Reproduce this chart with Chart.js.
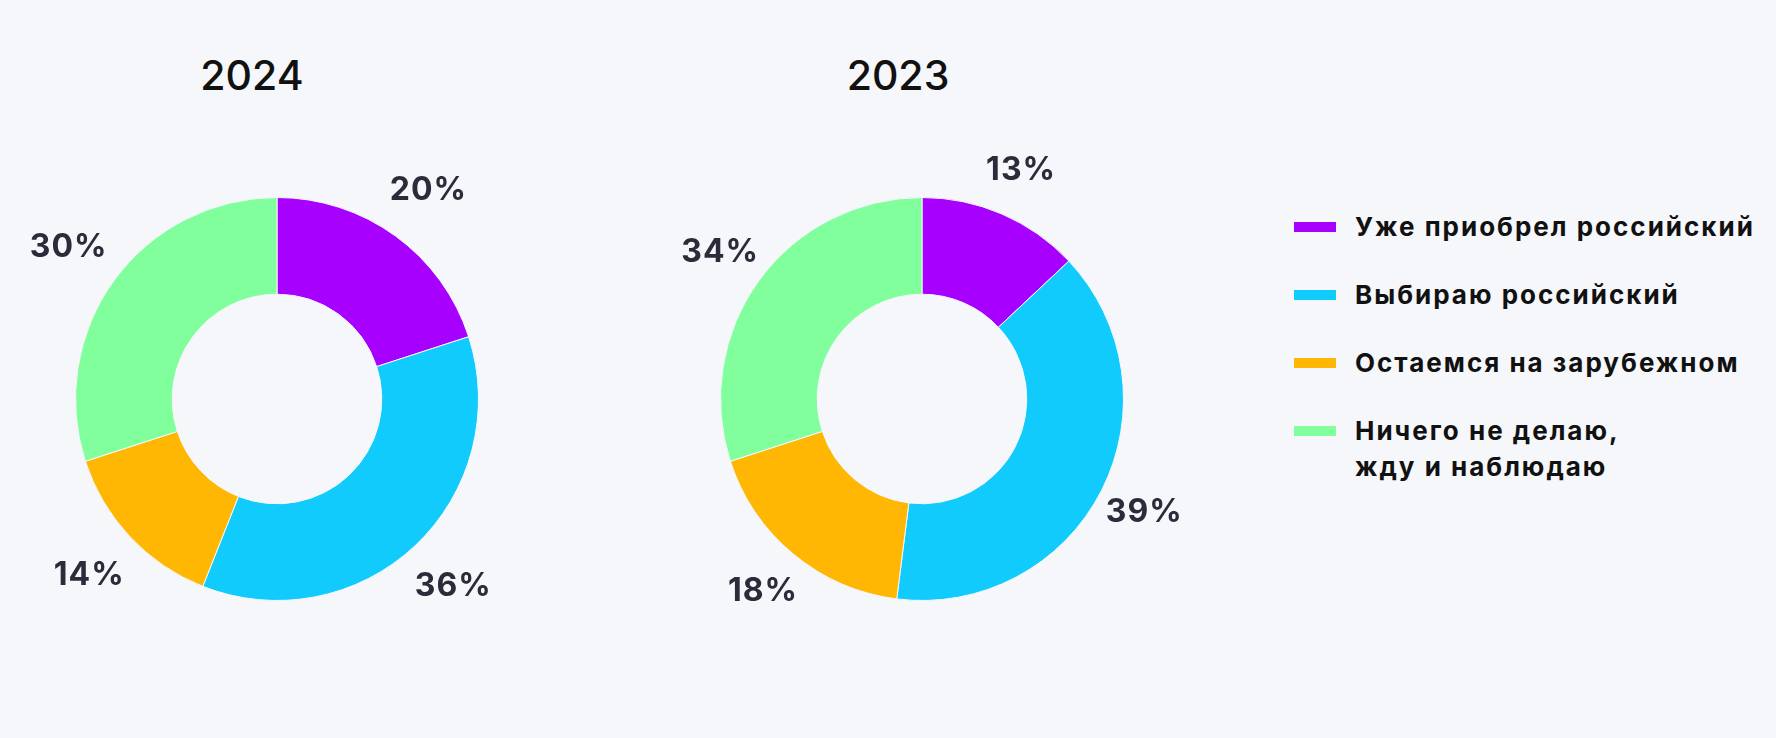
<!DOCTYPE html>
<html lang="ru">
<head>
<meta charset="utf-8">
<title>2024 / 2023</title>
<script src="https://cdn.jsdelivr.net/npm/chart.js@4/dist/chart.umd.min.js"></script>
<style>
  html, body { margin: 0; padding: 0; }
  body {
    width: 1776px; height: 738px; position: relative; overflow: hidden;
    background: #f5f7fb; font-family: Inter, "Noto Sans", sans-serif;
  }
  .year {
    position: absolute; top: 50px; width: 200px; text-align: center;
    font-size: 41px; font-weight: 500; color: #111; line-height: 50px;
  }
  .pie { position: absolute; top: 99px; width: 600px; height: 600px; }
  #legend { position: absolute; left: 1294px; top: 209px; }
  .item { display: flex; align-items: flex-start; margin-bottom: 32px; }
  .swatch { width: 42px; height: 10px; margin-top: 13px; margin-right: 19px; flex: none; }
  .txt { font-size: 26px; font-weight: 700; line-height: 36px; color: #111; white-space: pre-line; letter-spacing: 2px; }
</style>
</head>
<body>
<div class="year" style="left:152px">2024</div>
<div class="year" style="left:798px">2023</div>
<div class="pie" style="left:0px"><canvas id="chart2024"></canvas></div>
<div class="pie" style="left:622px"><canvas id="chart2023"></canvas></div>
<div id="legend"></div>

<script>
const categories = [
    'Уже приобрел российский',
    'Выбираю российский',
    'Остаемся на зарубежном',
    'Ничего не делаю,\nжду и наблюдаю'
];
// slice sizes as drawn in the picture
const values2024 = [20, 36, 14, 30];
const values2023 = [13, 39, 18, 30];
// printed labels (2023 green slice is drawn at 30% but labelled 34%)
const labels2024 = ['20%', '36%', '14%', '30%'];
const labels2023 = ['13%', '39%', '18%', '34%'];
const colors = ['#a800ff', '#12cbfd', '#ffb703', '#80ff9c'];

// percent labels just outside each ring
const outsideLabels = {
    id: 'outsideLabels',
    afterDatasetsDraw(chart, args, opts) {
        const ctx = chart.ctx;
        const meta = chart.getDatasetMeta(0);
        ctx.save();
        ctx.font = '700 32px Inter, "Noto Sans", sans-serif';
        ctx.letterSpacing = '1px';
        ctx.fillStyle = '#2c2b3a';
        ctx.textAlign = 'center';
        ctx.textBaseline = 'middle';
        meta.data.forEach((arc, i) => {
            const p = arc.getProps(['x', 'y', 'startAngle', 'endAngle', 'outerRadius'], true);
            const mid = (p.startAngle + p.endAngle) / 2;
            const r = p.outerRadius + opts.offset;
            ctx.fillText(opts.texts[i], p.x + Math.cos(mid) * r, p.y + Math.sin(mid) * r);
        });
        ctx.restore();
    }
};

const makeDonut = (id, values, texts, offset, padding) => {
    const ctx = document.getElementById(id).getContext('2d');
    return new Chart(ctx, {
        type: 'doughnut',
        data: {
            labels: categories,
            datasets: [{
                data: values,
                backgroundColor: colors,
                borderColor: '#f5f7fb',
                borderWidth: 1,
                hoverOffset: 0
            }]
        },
        options: {
            responsive: true,
            maintainAspectRatio: false,
            animation: false,
            cutout: '52%',
            layout: { padding: padding },
            plugins: {
                legend: { display: false },
                tooltip: { enabled: false },
                outsideLabels: { texts: texts, offset: offset }
            }
        },
        plugins: [outsideLabels]
    });
};

makeDonut('chart2024', values2024, labels2024, 56, { left: 75, right: 121, top: 98, bottom: 98 });
makeDonut('chart2023', values2023, labels2023, 48, { left: 98, right: 98, top: 98, bottom: 98 });

const legend = document.getElementById('legend');
categories.forEach((name, i) => {
    const row = document.createElement('div');
    row.className = 'item';
    row.innerHTML = '<span class="swatch" style="background:' + colors[i] + '"></span><span class="txt"></span>';
    row.querySelector('.txt').textContent = name;
    legend.appendChild(row);
});
</script>
</body>
</html>
